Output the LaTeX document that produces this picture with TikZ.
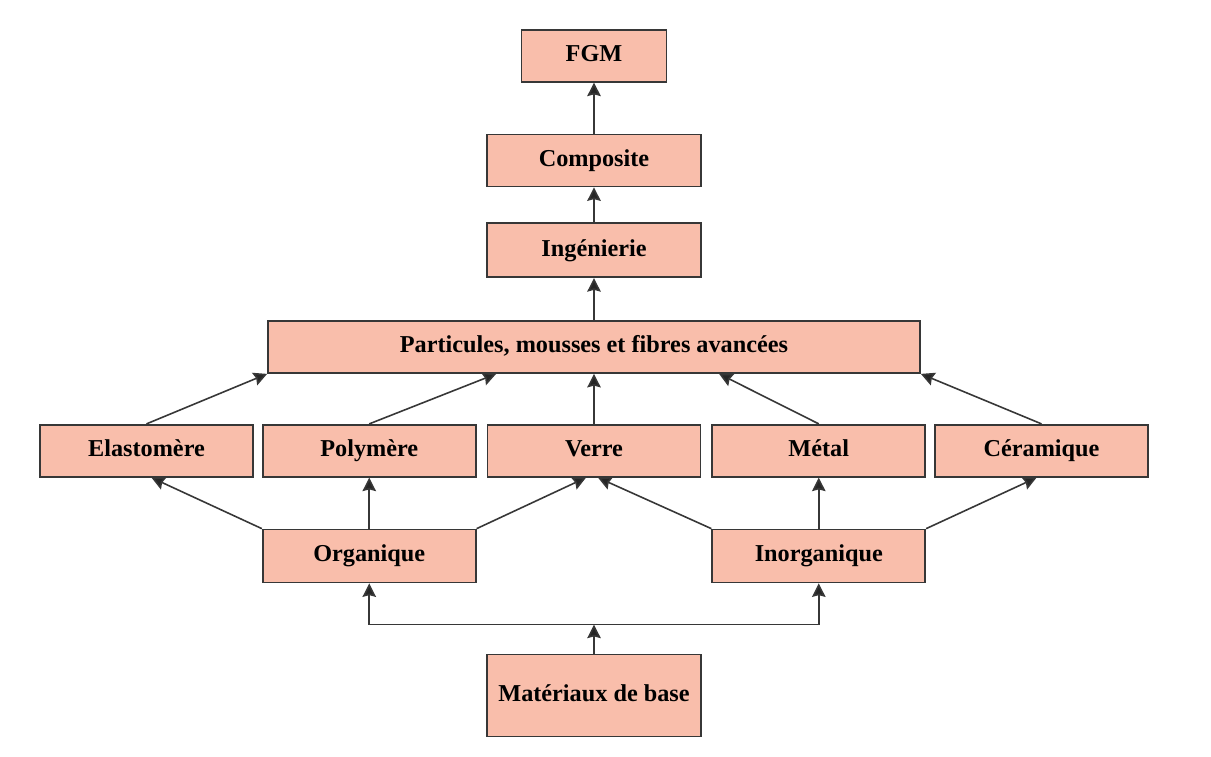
\documentclass[tikz,border=0pt]{standalone}
\usepackage{fontspec}
\setmainfont{Liberation Serif}
\usepackage{tikz}
\usetikzlibrary{arrows.meta,shapes}
\usetikzlibrary{positioning}
\definecolor{boxfill}{RGB}{249,190,171}
\definecolor{boxline}{RGB}{55,55,55}
\tikzset{mat box/.style={rectangle,fill=boxfill,draw=boxline,line width=1pt,
    font=\fontsize{13.8}{16}\selectfont\bfseries,inner sep=0pt,
    text height=9.6pt,text depth=2.9pt,
    minimum width=4.26cm,minimum height=1.04cm},
  link/.style={draw=boxline,line width=0.9pt,
    -{Stealth[length=2.7mm,width=2.7mm,inset=0.35mm,fill=black!85]}},
}

\begin{document}
\begin{tikzpicture}
		\useasboundingbox[fill=white] (0,0) rectangle (24.22,-15.12);
		\node[mat box,minimum width=13.04cm] (part) at (11.88,-6.94) {Particules, mousses et fibres avancées};
		\node[mat box,minimum width=4.28cm,minimum height=1.08cm] (ing) [above = 0.84cm of part] {Ingénierie};
		\node[mat box,minimum width=4.28cm] (comp) [above = 0.7cm of ing] {Composite};
		\node[mat box,minimum width=2.9cm] (fgm) [above = 1.02cm of comp] {FGM};
		
		\node[mat box] (verre) [below = 1.0cm of part] {Verre};
		\node[mat box] (poly) [left = 0.2cm of verre] {Polymère};
		\node[mat box] (elast) [left = 0.16cm of poly] {Elastomère};
		\node[mat box] (metal) [right = 0.2cm of verre] {Métal};
		\node[mat box] (ceram) [right = 0.16cm of metal] {Céramique};
		
		\node[mat box,minimum height=1.06cm] (org) [below = 1.02cm of poly] {Organique};
		\node[mat box,minimum height=1.06cm] (inorg) [below = 1.02cm of metal] {Inorganique};
		\node[mat box,minimum width=4.28cm,minimum height=1.64cm] (mat) [below = 3.52cm of verre] {Matériaux de base};
		\coordinate (split) at ([yshift=0.58cm]mat.north);
		
		\draw[link] (comp) -- (fgm);
		\draw[link] (ing) -- (comp);
		\draw[link] (part) -- (ing);
		\draw[link] (elast.north) -- (part.south west);
		\draw[link] (poly.north) -- ([xshift=4.58cm]part.south west);
		\draw[link] (verre) -- (part);
		\draw[link] (metal.north) -- ([xshift=9.04cm]part.south west);
		\draw[link] (ceram.north) -- (part.south east);
		%%
		\draw[link] (org.north west) -- ([xshift=0.1cm]elast.south);
		\draw[link] (org) -- (poly);
		\draw[link] (org.north east) -- ([xshift=-0.16cm]verre.south);
		\draw[link] (inorg.north west) -- ([xshift=0.08cm]verre.south);
		\draw[link] (inorg) -- (metal);
		\draw[link] (inorg.north east) -- ([xshift=-0.1cm]ceram.south);
		%%
		\draw[link] (mat) -- (split);
		\draw[link] (split) -| (org);
		\draw[link] (split) -| (inorg);
	\end{tikzpicture}
\end{document}
